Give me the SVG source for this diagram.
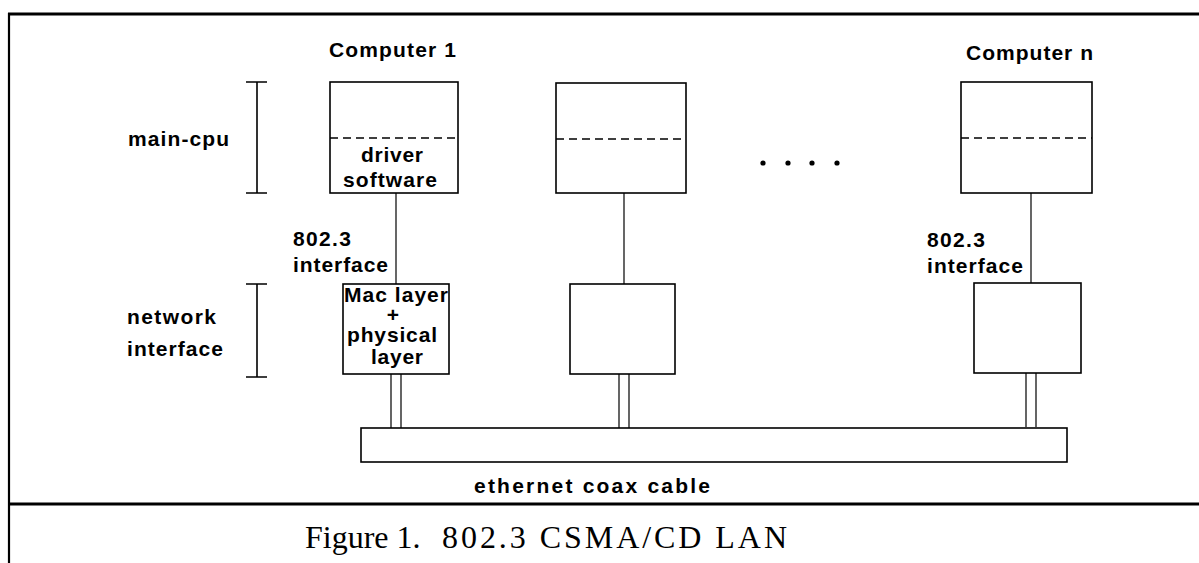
<svg xmlns="http://www.w3.org/2000/svg" width="1199" height="563" viewBox="0 0 1199 563">
  <style>
    .lbl { font-family: "Liberation Sans", Arial, sans-serif; font-weight: bold; font-size: 21px; fill: #000; }
    .cap { font-family: "Liberation Serif", "Times New Roman", serif; font-size: 32px; fill: #000; }
    .box { fill: #fff; stroke: #000; stroke-width: 1.6; }
    .dash { stroke: #000; stroke-width: 1.6; stroke-dasharray: 8 5; fill: none; }
    .wire { stroke: #000; stroke-width: 1.2; fill: none; }
    .brk { stroke: #000; stroke-width: 1.6; fill: none; }
    .frame { stroke: #000; fill: none; }
  </style>

  <rect width="1199" height="563" fill="#fff"/>

  <!-- page frame and caption rule -->
  <g id="frame">
    <line class="frame" x1="8" y1="14" x2="1199" y2="14" stroke-width="3"/>
    <line class="frame" x1="9" y1="13" x2="9" y2="563" stroke-width="2.2"/>
    <line class="frame" x1="9" y1="504" x2="1199" y2="504" stroke-width="3"/>
  </g>

  <!-- layer brackets and labels -->
  <g id="layer-main-cpu">
    <path class="brk" d="M246 82H267M257 82V193M246 193H267"/>
    <text class="lbl" x="128" y="146" textLength="101" lengthAdjust="spacing">main-cpu</text>
  </g>
  <g id="layer-network-interface">
    <path class="brk" d="M246 284H267M257 284V377M246 377H267"/>
    <text class="lbl" x="127" y="324" textLength="89" lengthAdjust="spacing">network</text>
    <text class="lbl" x="127" y="356" textLength="96" lengthAdjust="spacing">interface</text>
  </g>

  <!-- connectors -->
  <g id="connectors">
    <line class="wire" x1="396" y1="193" x2="396" y2="284" stroke="#555"/>
    <line class="wire" x1="624" y1="193" x2="624" y2="284" stroke="#555"/>
    <line class="wire" x1="1031" y1="193" x2="1031" y2="283"/>
    <path class="wire" d="M391 374V428M401 374V428"/>
    <path class="wire" d="M619 374V428M629 374V428"/>
    <path class="wire" d="M1026 373V427M1036 373V427"/>
  </g>

  <!-- computer 1 -->
  <g id="computer-1">
    <text class="lbl" x="329" y="57" textLength="127" lengthAdjust="spacing">Computer 1</text>
    <rect class="box" x="330" y="82" width="128" height="111"/>
    <line class="dash" x1="330" y1="138" x2="458" y2="138"/>
    <text class="lbl" x="361" y="162" textLength="62" lengthAdjust="spacing">driver</text>
    <text class="lbl" x="343" y="187" textLength="94" lengthAdjust="spacing">software</text>
  </g>
  <g id="interface-label-1">
    <text class="lbl" x="293" y="246" textLength="58" lengthAdjust="spacing">802.3</text>
    <text class="lbl" x="293" y="272" textLength="95" lengthAdjust="spacing">interface</text>
  </g>
  <g id="nic-1">
    <rect class="box" x="343" y="284" width="106" height="90"/>
    <text class="lbl" x="344" y="302" textLength="104" lengthAdjust="spacing">Mac layer</text>
    <text class="lbl" x="393" y="322" text-anchor="middle" font-size="12">+</text>
    <text class="lbl" x="347" y="342" textLength="90" lengthAdjust="spacing">physical</text>
    <text class="lbl" x="371" y="364" textLength="52" lengthAdjust="spacing">layer</text>
  </g>

  <!-- computer 2 -->
  <g id="computer-2">
    <rect class="box" x="556" y="83" width="130" height="110"/>
    <line class="dash" x1="556" y1="139" x2="686" y2="139"/>
  </g>
  <g id="nic-2">
    <rect class="box" x="570" y="284" width="105" height="90"/>
  </g>

  <!-- ellipsis -->
  <g id="ellipsis" fill="#000">
    <circle cx="763" cy="163" r="2.6"/>
    <circle cx="788" cy="163" r="2.6"/>
    <circle cx="812" cy="163" r="2.6"/>
    <circle cx="837" cy="163" r="2.6"/>
  </g>

  <!-- computer n -->
  <g id="computer-n">
    <text class="lbl" x="966" y="60" textLength="127" lengthAdjust="spacing">Computer n</text>
    <rect class="box" x="961" y="82" width="131" height="111"/>
    <line class="dash" x1="961" y1="138" x2="1092" y2="138"/>
  </g>
  <g id="interface-label-n">
    <text class="lbl" x="927" y="247" textLength="58" lengthAdjust="spacing">802.3</text>
    <text class="lbl" x="927" y="273" textLength="96" lengthAdjust="spacing">interface</text>
  </g>
  <g id="nic-n">
    <rect class="box" x="974" y="283" width="107" height="90"/>
  </g>

  <!-- coax cable -->
  <g id="cable">
    <rect class="box" x="361" y="428" width="706" height="34"/>
    <text class="lbl" x="474" y="493" textLength="236" lengthAdjust="spacing" font-size="20">ethernet coax cable</text>
  </g>

  <!-- caption -->
  <g id="caption">
    <text class="cap" x="305" y="548">Figure 1.</text>
    <text class="cap" x="442" y="548" textLength="345" lengthAdjust="spacing">802.3 CSMA/CD LAN</text>
  </g>
</svg>
